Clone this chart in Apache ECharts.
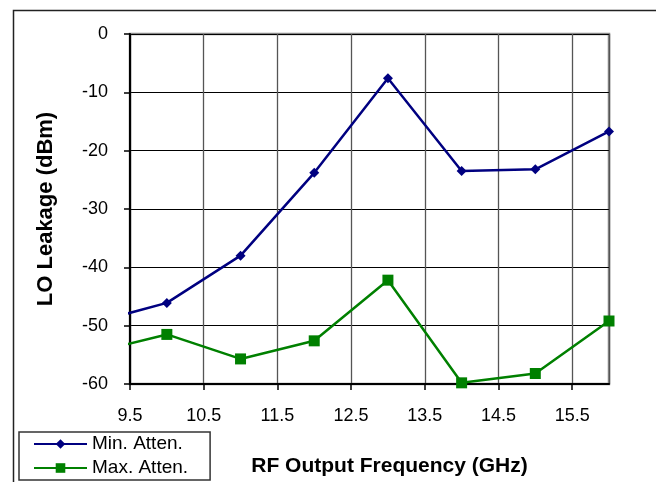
<!DOCTYPE html>
<html>
<head>
<meta charset="utf-8">
<script src="https://cdn.jsdelivr.net/npm/echarts@6/dist/echarts.min.js"></script>
<style>
html,body{margin:0;padding:0;background:#fff;}
#c{width:656px;height:482px;}
</style>
</head>
<body>
<div id="c"></div>
<script>
// Data (frequency in GHz, LO leakage in dBm)
var freqs = [9, 10, 11, 12, 13, 14, 15, 16];
var minAtten = [-49.5, -46.1, -38.0, -23.8, -7.6, -23.5, -23.2, -16.7];
var maxAtten = [-54.6, -51.5, -55.7, -52.6, -42.2, -59.8, -58.2, -49.2];
var seriesNames = ['Min. Atten.', 'Max. Atten.'];
var xTicks = [9.5, 10.5, 11.5, 12.5, 13.5, 14.5, 15.5];
var yTicks = [0, -10, -20, -30, -40, -50, -60];

function pairs(xs, ys){ return xs.map(function(x,i){ return [x, ys[i]]; }); }

var FONT = 'Arial, "Liberation Sans", sans-serif';
var chart = echarts.init(document.getElementById('c'), null, {renderer:'canvas'});
chart.setOption({
  animation: false,
  backgroundColor: '#fff',
  textStyle: {fontFamily: FONT},
  graphic: [{
    type: 'rect', left: 11, top: 8, shape: {x: 0, y: 0, width: 700, height: 500},
    style: {fill: 'none', stroke: '#222', lineWidth: 1.5}, silent: true, z: -1
  }],
  grid: {left: 130, right: 47, top: 34, bottom: 98, show: true, borderColor: '#888', borderWidth: 2.5,
    backgroundColor: 'transparent', outerBoundsMode: 'none', containLabel: false},
  xAxis: {
    type: 'value', min: 9.5, max: 16, interval: 1,
    axisLine: {show: true, onZero: false, lineStyle: {color: '#000', width: 2}},
    axisTick: {show: true, inside: false, length: 6, lineStyle: {color: '#000', width: 1.5}},
    axisLabel: {margin: 23, fontSize: 18, color: '#000', fontFamily: FONT, showMaxLabel: false,
      formatter: function(v){ return xTicks.indexOf(v) >= 0 ? v.toFixed(1) : ''; }},
    splitLine: {show: true, lineStyle: {color: '#555', width: 1.3}},
    name: 'RF Output Frequency (GHz)', nameLocation: 'middle', nameGap: 72,
    nameTextStyle: {fontSize: 21, fontWeight: 'bold', color: '#000', fontFamily: FONT, padding: [0, 0, 0, 40]}
  },
  yAxis: {
    type: 'value', min: -60, max: 0, interval: 10,
    axisLine: {show: true, onZero: false, lineStyle: {color: '#000', width: 2}},
    axisTick: {show: true, inside: false, length: 6, lineStyle: {color: '#000', width: 1.5}},
    axisLabel: {margin: 22, fontSize: 18, color: '#000', fontFamily: FONT},
    splitLine: {show: true, lineStyle: {color: '#000', width: 1.2}},
    name: 'LO Leakage (dBm)', nameLocation: 'middle', nameGap: 73, nameRotate: 90,
    nameTextStyle: {fontSize: 22, fontWeight: 'bold', color: '#000', fontFamily: FONT, padding: [0, 0, 0, 0]}
  },
  legend: {
    orient: 'vertical', left: 19, top: 432,
    data: seriesNames,
    itemWidth: 53, itemHeight: 12, itemGap: 2,
    padding: [1, 22, 1, 14],
    borderColor: '#333', borderWidth: 1.5, backgroundColor: '#fff',
    textStyle: {fontSize: 19, lineHeight: 22, color: '#000', fontFamily: FONT}
  },
  series: [{
    name: seriesNames[0], type: 'line', data: pairs(freqs, minAtten),
    symbol: 'diamond', symbolSize: 10, showAllSymbol: true, clip: true,
    lineStyle: {color: '#000080', width: 2.5},
    itemStyle: {color: '#000080'}
  }, {
    name: seriesNames[1], type: 'line', data: pairs(freqs, maxAtten),
    symbol: 'rect', symbolSize: 11, showAllSymbol: true, clip: true,
    lineStyle: {color: '#008000', width: 2.5},
    itemStyle: {color: '#008000'}
  }]
});
</script>
</body>
</html>
